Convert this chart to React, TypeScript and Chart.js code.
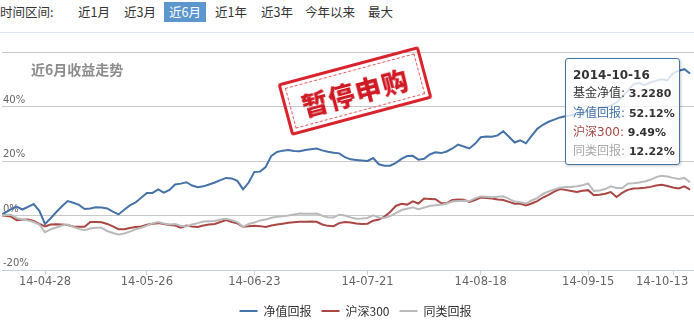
import React, { useEffect, useRef } from 'react';
import { Chart, registerables } from 'chart.js';

Chart.register(...registerables);

// ---- data ----
const dates = [
  '2014-04-16', '2014-04-17', '2014-04-18', '2014-04-21', '2014-04-22', '2014-04-23', '2014-04-24', '2014-04-25', '2014-04-28', '2014-04-29',
  '2014-04-30', '2014-05-05', '2014-05-06', '2014-05-07', '2014-05-08', '2014-05-09', '2014-05-12', '2014-05-13', '2014-05-14', '2014-05-15',
  '2014-05-16', '2014-05-19', '2014-05-20', '2014-05-21', '2014-05-22', '2014-05-23', '2014-05-26', '2014-05-27', '2014-05-28', '2014-05-29',
  '2014-05-30', '2014-06-03', '2014-06-04', '2014-06-05', '2014-06-06', '2014-06-09', '2014-06-10', '2014-06-11', '2014-06-12', '2014-06-13',
  '2014-06-16', '2014-06-17', '2014-06-18', '2014-06-19', '2014-06-20', '2014-06-23', '2014-06-24', '2014-06-25', '2014-06-26', '2014-06-27',
  '2014-06-30', '2014-07-01', '2014-07-02', '2014-07-03', '2014-07-04', '2014-07-07', '2014-07-08', '2014-07-09', '2014-07-10', '2014-07-11',
  '2014-07-14', '2014-07-15', '2014-07-16', '2014-07-17', '2014-07-18', '2014-07-21', '2014-07-22', '2014-07-23', '2014-07-24', '2014-07-25',
  '2014-07-28', '2014-07-29', '2014-07-30', '2014-07-31', '2014-08-01', '2014-08-04', '2014-08-05', '2014-08-06', '2014-08-07', '2014-08-08',
  '2014-08-11', '2014-08-12', '2014-08-13', '2014-08-14', '2014-08-15', '2014-08-18', '2014-08-19', '2014-08-20', '2014-08-21', '2014-08-22',
  '2014-08-25', '2014-08-26', '2014-08-27', '2014-08-28', '2014-08-29', '2014-09-01', '2014-09-02', '2014-09-03', '2014-09-04', '2014-09-05',
  '2014-09-09', '2014-09-10', '2014-09-11', '2014-09-12', '2014-09-15', '2014-09-16', '2014-09-17', '2014-09-18', '2014-09-19', '2014-09-22',
  '2014-09-23', '2014-09-24', '2014-09-25', '2014-09-26', '2014-09-29', '2014-09-30', '2014-10-08', '2014-10-09', '2014-10-10', '2014-10-13',
  '2014-10-14', '2014-10-15', '2014-10-16',
];

// 净值回报 (%)
const navReturn = [
  0.0, 1.1, 2.3, 3.3, 2.2, 3.2, 4.2, 1.7, -3.1, -1.0,
  1.3, 3.4, 5.3, 4.7, 3.9, 2.4, 2.6, 3.0, 2.9, 2.6,
  1.4, 0.4, 2.1, 3.7, 4.8, 6.5, 8.3, 8.3, 9.6, 8.4,
  9.4, 11.4, 11.7, 12.2, 11.0, 10.4, 10.7, 11.4, 12.1, 13.0,
  13.8, 13.6, 12.7, 9.6, 12.1, 16.0, 16.1, 17.8, 21.9, 23.3,
  23.8, 24.0, 23.7, 23.6, 24.0, 24.3, 24.6, 23.9, 23.4, 23.0,
  22.8, 21.4, 20.6, 20.4, 20.2, 20.0, 21.1, 18.8, 18.3, 18.3,
  19.3, 20.8, 21.8, 21.9, 20.5, 20.8, 22.4, 23.2, 22.9, 23.5,
  24.6, 26.0, 25.3, 24.6, 26.3, 28.7, 29.0, 28.9, 29.4, 30.9,
  28.9, 26.8, 27.6, 26.5, 29.2, 31.8, 33.3, 34.4, 35.2, 36.0,
  36.4, 36.8, 37.3, 37.7, 38.1, 38.6, 39.2, 39.7, 40.4, 41.5,
  43.6, 45.8, 48.2, 48.6, 47.8, 48.8, 49.5, 50.0, 49.6, 52.2,
  53.1, 53.7, 52.12,
];

// 沪深300 (%)
const hs300Return = [
  0.0, -0.1, -0.4, -1.7, -1.6, -1.5, -2.0, -3.1, -4.0, -3.3,
  -3.2, -3.3, -3.5, -4.0, -4.1, -4.1, -2.4, -2.4, -2.5, -3.1,
  -4.0, -5.0, -5.0, -4.6, -4.2, -4.0, -3.4, -3.0, -2.8, -3.1,
  -3.5, -3.7, -4.5, -3.7, -4.0, -4.2, -3.7, -3.3, -3.1, -2.4,
  -1.7, -2.4, -2.9, -4.2, -3.9, -3.8, -3.9, -4.2, -3.7, -3.3,
  -3.0, -2.7, -2.5, -2.3, -2.3, -2.2, -2.3, -3.3, -3.8, -3.9,
  -2.8, -2.4, -2.6, -2.9, -3.1, -3.0, -1.9, -1.5, -0.4, 1.3,
  3.5, 4.3, 4.0, 5.2, 4.4, 6.2, 6.1, 6.0, 4.6, 4.5,
  5.7, 5.9, 5.8, 5.0, 5.7, 6.6, 6.4, 6.2, 5.9, 5.7,
  5.0, 4.3, 4.3, 3.7, 4.4, 5.3, 6.6, 7.6, 8.8, 9.7,
  9.4, 9.0, 8.6, 9.1, 9.3, 7.4, 7.6, 8.0, 8.6, 6.8,
  8.3, 9.4, 9.9, 10.0, 10.2, 10.5, 11.0, 11.3, 10.8, 10.3,
  9.9, 10.7, 9.49,
];

// 同类回报 (%)
const peerReturn = [
  0.0, 0.2, 0.3, -0.9, -1.5, -1.8, -2.4, -3.3, -6.1, -5.1,
  -4.4, -3.7, -3.3, -4.2, -4.9, -5.4, -4.8, -4.5, -4.5, -5.7,
  -6.4, -7.0, -6.6, -5.9, -5.1, -4.5, -3.7, -2.9, -2.4, -2.9,
  -3.3, -3.1, -3.8, -4.0, -3.3, -2.8, -2.2, -2.1, -2.0, -1.5,
  -1.2, -1.7, -2.4, -4.2, -3.1, -2.6, -1.8, -1.5, -0.8, -0.5,
  -0.3, 0.0, 0.4, 0.7, 0.6, 0.6, 0.7, -0.1, -0.6, -0.7,
  0.3, 0.0, -0.7, -1.2, -1.1, -0.9, 0.1, -0.7, -0.9, -0.2,
  0.9, 2.0, 2.5, 3.0, 2.3, 2.9, 3.5, 3.8, 3.9, 4.4,
  5.1, 5.3, 5.4, 5.3, 6.3, 7.0, 6.9, 6.7, 6.9, 7.1,
  6.1, 5.1, 4.9, 4.4, 5.5, 6.4, 7.9, 8.8, 9.6, 10.2,
  10.5, 10.5, 10.7, 11.1, 11.8, 9.0, 9.2, 9.7, 10.7, 10.1,
  10.1, 11.7, 11.8, 12.1, 12.5, 13.1, 14.1, 14.6, 14.3, 13.8,
  13.4, 13.8, 12.22,
];

const seriesNames = ['净值回报', '沪深300', '同类回报'];
const xTickDates = ['2014-04-28', '2014-05-26', '2014-06-23', '2014-07-21', '2014-08-18', '2014-09-15', '2014-10-13'];
const yTickValues = [-20, 0, 20, 40, 60];
const periodLabels = ['近1月', '近3月', '近6月', '近1年', '近3年', '今年以来', '最大'];
const activePeriod = '近6月';
const latestNav = '3.2280';
const chartTitle = '近6月收益走势';
const stampText = '暂停申购';

// ---- styles ----
const COLORS = ['#4572a7', '#aa4643', '#bababa'];
const PERIOD_X = [78, 124, 164, 215, 261, 305, 368];
const CJK = '"Noto Sans CJK SC", "Noto Sans", sans-serif';
const MIXED = '"DejaVu Sans", "Noto Sans CJK SC", sans-serif';

export default function App() {
  const canvasRef = useRef<HTMLCanvasElement | null>(null);

  useEffect(() => {
    const canvas = canvasRef.current;
    if (!canvas) return;
    const tickIdx = xTickDates.map((d) => dates.indexOf(d));
    const toPoints = (arr: number[]) => arr.map((y, x) => ({ x, y }));
    const series = [navReturn, hs300Return, peerReturn];

    const chart = new Chart(canvas, {
      type: 'line',
      data: {
        datasets: series.map((arr, i) => ({
          label: seriesNames[i],
          data: toPoints(arr),
          borderColor: COLORS[i],
          backgroundColor: COLORS[i],
          borderWidth: 2,
          pointRadius: 0,
          tension: 0,
          fill: false,
          order: 2 - i,
        })),
      },
      options: {
        responsive: false,
        animation: false,
        events: [],
        layout: { padding: { left: 2, right: -15, top: 52, bottom: 0 } },
        scales: {
          x: {
            type: 'linear',
            min: 0.4,
            max: 122.7,
            afterBuildTicks: (s: any) => {
              s.ticks = tickIdx.map((v) => ({ value: v }));
            },
            afterFit: (s: any) => {
              s.height = 25;
              s.paddingLeft = 0;
              s.paddingRight = 0;
            },
            grid: { drawOnChartArea: false, drawTicks: true, tickLength: 5, tickColor: '#c4d2e2' },
            border: { color: '#c4d2e2' },
            ticks: {
              autoSkip: false,
              maxRotation: 0,
              padding: 0,
              color: '#666',
              font: { family: '"DejaVu Sans"', size: 11.5 },
              callback: (v: any) => {
                const k = tickIdx.indexOf(Number(v));
                if (k < 0) return '';
                const txt = dates[Number(v)].slice(2);
                return k === tickIdx.length - 1 ? txt + '      ' : txt;
              },
            },
          },
          y: {
            min: -20,
            max: 60,
            afterBuildTicks: (s: any) => {
              s.ticks = yTickValues.map((v) => ({ value: v }));
            },
            afterFit: (s: any) => {
              s.width = 0;
            },
            grid: {
              color: (c: any) => (c.tick && c.tick.value === -20 ? 'rgba(0,0,0,0)' : '#c8c8c8'),
              drawTicks: false,
            },
            border: { display: false },
            ticks: {
              mirror: true,
              padding: 1,
              labelOffset: -6.5,
              color: '#666',
              font: { family: '"DejaVu Sans"', size: 10 },
              callback: (v: any) => (Number(v) === 60 ? '' : v + '%'),
            },
          },
        },
        plugins: {
          legend: {
            position: 'bottom',
            labels: {
              usePointStyle: true,
              pointStyle: 'line',
              pointStyleWidth: 18,
              padding: 10,
              color: '#333',
              font: { family: CJK, size: 12 },
              sort: (a: any, b: any) => a.datasetIndex - b.datasetIndex,
            },
          },
          tooltip: { enabled: false },
        },
      } as any,
    });
    return () => chart.destroy();
  }, []);

  const last = dates.length - 1;

  return (
    <div
      style={{
        position: 'fixed',
        left: 0,
        top: 0,
        width: 694,
        height: 323,
        overflow: 'hidden',
        background: '#fff',
        fontFamily: CJK,
      }}
    >
      {/* period selector */}
      <div style={{ position: 'absolute', left: 0, top: 2, height: 20, lineHeight: '20px', fontSize: 12.5, color: '#333', whiteSpace: 'nowrap' }}>
        时间区间:
      </div>
      {periodLabels.map((p, i) => {
        const active = p === activePeriod;
        return (
          <div
            key={p}
            style={{
              position: 'absolute',
              left: PERIOD_X[i],
              top: 2,
              height: 20,
              lineHeight: '20px',
              fontSize: 12.5,
              whiteSpace: 'nowrap',
              color: active ? '#fff' : '#333',
              background: active ? '#5b96cf' : 'transparent',
              padding: active ? '0 5px' : 0,
            }}
          >
            {p}
          </div>
        );
      })}
      <div style={{ position: 'absolute', left: 0, top: 32, width: 694, height: 1, background: '#dde4ec' }} />

      <canvas ref={canvasRef} width={694} height={327} style={{ position: 'absolute', left: 0, top: 0, width: 694, height: 327 }} />

      {/* title */}
      <div style={{ position: 'absolute', left: 31, top: 60, height: 18, lineHeight: '18px', fontSize: 14, fontWeight: 'bold', color: '#8c8c8c', whiteSpace: 'nowrap' }}>
        {chartTitle}
      </div>

      {/* stamp */}
      <div
        style={{
          position: 'absolute',
          left: 355 - 73,
          top: 91 - 27,
          width: 146,
          height: 54,
          boxSizing: 'border-box',
          border: '3px solid #d8222c',
          borderRadius: 3,
          transform: 'rotate(-15deg)',
        }}
      >
        <div style={{ position: 'absolute', left: 3, top: 3, right: 3, bottom: 3, border: '1px dashed #e2565d' }} />
        <div
          style={{
            position: 'absolute',
            left: 0,
            right: 0,
            top: 9,
            textAlign: 'center',
            fontSize: 26,
            lineHeight: '32px',
            fontWeight: 900,
            letterSpacing: 1.5,
            color: '#cf1a24',
            whiteSpace: 'nowrap',
          }}
        >
          {stampText}
        </div>
      </div>

      {/* tooltip */}
      <div
        style={{
          position: 'absolute',
          left: 565,
          top: 58,
          width: 115,
          height: 107,
          boxSizing: 'border-box',
          border: '1px solid #4572a7',
          borderRadius: 3,
          background: 'rgba(255,255,255,0.8)',
          boxShadow: '1px 1px 3px rgba(0,0,0,0.22)',
          padding: '7px 0 0 7px',
          fontFamily: MIXED,
          fontSize: 12,
          lineHeight: '18.3px',
          color: '#333',
          whiteSpace: 'nowrap',
        }}
      >
        <div style={{ fontWeight: 'bold' }}>{dates[last]}</div>
        <div>
          基金净值: <b style={{ fontSize: 11 }}>{latestNav}</b>
        </div>
        <div>
          <span style={{ color: COLORS[0] }}>{seriesNames[0]}:</span> <b style={{ fontSize: 11 }}>{navReturn[last].toFixed(2)}%</b>
        </div>
        <div>
          <span style={{ color: COLORS[1] }}>{seriesNames[1]}:</span> <b style={{ fontSize: 11 }}>{hs300Return[last].toFixed(2)}%</b>
        </div>
        <div>
          <span style={{ color: '#aaaaaa' }}>{seriesNames[2]}:</span> <b style={{ fontSize: 11 }}>{peerReturn[last].toFixed(2)}%</b>
        </div>
      </div>
    </div>
  );
}
